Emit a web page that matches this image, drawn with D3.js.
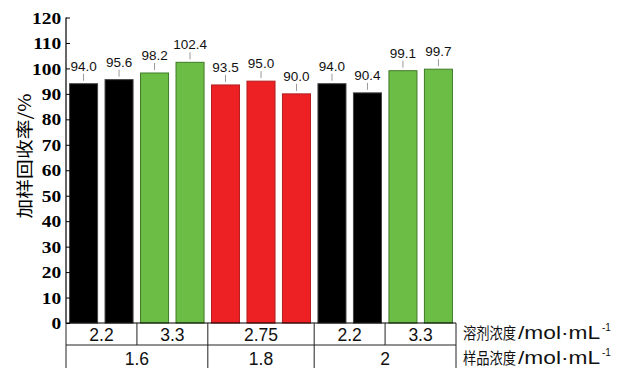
<!DOCTYPE html>
<html><head><meta charset="utf-8">
<script src="https://cdn.jsdelivr.net/npm/d3@7"></script>
<style>body{margin:0;background:#fff}</style>
</head><body>
<svg id="c" width="619" height="368"></svg>
<script>
const values = [94.0, 95.6, 98.2, 102.4, 93.5, 95.0, 90.0, 94.0, 90.4, 99.1, 99.7];
const colorKeys = ["k","k","g","g","r","r","r","k","k","g","g"];
const solventLabels = ["2.2","3.3","2.75","2.2","3.3"];
const solventSpans = [2,2,3,2,2];
const sampleLabels = ["1.6","1.8","2"];
const sampleSpans = [4,3,4];
const yTicks = [0,10,20,30,40,50,60,70,80,90,100,110,120];

const palette = {k:"#000000", g:"#6cbd45", r:"#ed2024"};
const strokes = {k:"#444", g:"#3f7a2a", r:"#b31d20"};

const svg = d3.select("#c");
const L = 66, R = 456, T = 17.5, B = 323;
const x = d3.scaleBand().domain(d3.range(values.length)).range([L, R]).paddingInner(0.21).paddingOuter(0.1);
const y = d3.scaleLinear().domain([0,120]).range([B, T]);
const step = (R - L) / values.length;

// bars
svg.selectAll("rect.bar").data(values).join("rect")
  .attr("x", (d,i)=>x(i)).attr("width", x.bandwidth())
  .attr("y", d=>y(d)).attr("height", d=>B - y(d))
  .attr("fill", (d,i)=>palette[colorKeys[i]])
  .attr("stroke", (d,i)=>strokes[colorKeys[i]]).attr("stroke-width", 1);

// leaders and labels
svg.selectAll("line.lead").data(values).join("line")
  .attr("x1",(d,i)=>x(i)+x.bandwidth()/2).attr("x2",(d,i)=>x(i)+x.bandwidth()/2)
  .attr("y1",d=>y(d)-10).attr("y2",d=>y(d)-3)
  .attr("stroke","#999").attr("stroke-width",1);
svg.selectAll("text.val").data(values).join("text")
  .attr("x",(d,i)=>x(i)+x.bandwidth()/2).attr("y",d=>y(d)-13)
  .attr("text-anchor","middle").attr("font-family","Liberation Sans, Arial, sans-serif")
  .attr("font-size",13.5).attr("fill","#111").text(d=>d.toFixed(1));

// y axis
const yAxis = d3.axisLeft(y).tickValues(yTicks).tickSize(-4).tickPadding(4).tickFormat(d3.format("d"));
const ga = svg.append("g").attr("transform",`translate(${L},0)`).call(yAxis);
ga.select(".domain").attr("d", `M0,${T}V${B}`).attr("stroke","#000").attr("stroke-width",1.2);
ga.selectAll(".tick line").attr("stroke","#000");
ga.selectAll(".tick text").attr("font-family","Liberation Serif, Times New Roman, serif")
  .attr("font-weight","bold").attr("font-size",16.5).attr("fill","#000").attr("dy","0.34em")
  .attr("transform","scale(1.18,1)");

// y title
svg.append("text").attr("transform",`translate(31,156) rotate(-90)`)
  .attr("text-anchor","middle").attr("font-family","Noto Sans CJK SC, sans-serif").attr("font-weight",400)
  .attr("font-size",17).attr("fill","#000")
  .attr("textLength",125).attr("lengthAdjust","spacingAndGlyphs").text("加样回收率/%");

// table
const tb = svg.append("g").attr("stroke","#222").attr("stroke-width",1).attr("fill","none");
const r1t = B, r1b = 345, r2b = 368;
tb.append("line").attr("x1",L).attr("x2",R).attr("y1",r1t).attr("y2",r1t).attr("stroke","#000").attr("stroke-width",1.2);
tb.append("line").attr("x1",L).attr("x2",R).attr("y1",r1b).attr("y2",r1b);
tb.append("line").attr("x1",L).attr("x2",L).attr("y1",r1t).attr("y2",r2b);
tb.append("line").attr("x1",R).attr("x2",R).attr("y1",r1t).attr("y2",r2b);

function drawRow(labels, spans, top, bottom, base){
  let idx = 0;
  labels.forEach((lab,k)=>{
    const x0 = L + idx*step, x1 = L + (idx+spans[k])*step;
    if (k>0) tb.append("line").attr("x1",x0).attr("x2",x0).attr("y1",top).attr("y2",bottom);
    svg.append("text").attr("x",(x0+x1)/2).attr("y",base)
      .attr("text-anchor","middle").attr("font-family","Liberation Sans, Arial, sans-serif")
      .attr("font-size",17.5).attr("fill","#111").text(lab);
    idx += spans[k];
  });
}
drawRow(solventLabels, solventSpans, r1t, r1b, 341);
drawRow(sampleLabels, sampleSpans, r1b, r2b, 364.5);

// row titles
function rowTitle(cjk, latin, yy){
  svg.append("text").attr("transform",`translate(463,${yy}) scale(0.83,1)`)
    .attr("font-family","Noto Sans CJK SC, sans-serif")
    .attr("font-weight",400).attr("font-size",16).attr("fill","#111").text(cjk);
  svg.append("text").attr("transform",`translate(518,${yy}) scale(1.3,1)`)
    .attr("font-family","Liberation Sans, Arial, sans-serif")
    .attr("font-size",17.5).attr("fill","#111").text(latin);
  svg.append("text").attr("x",602).attr("y",yy-8).attr("font-family","Liberation Sans, Arial, sans-serif")
    .attr("font-size",10).attr("fill","#111").text("-1");
}
rowTitle("溶剂浓度", "/mol·mL", 339);
rowTitle("样品浓度", "/mol·mL", 364);
</script>
</body></html>
